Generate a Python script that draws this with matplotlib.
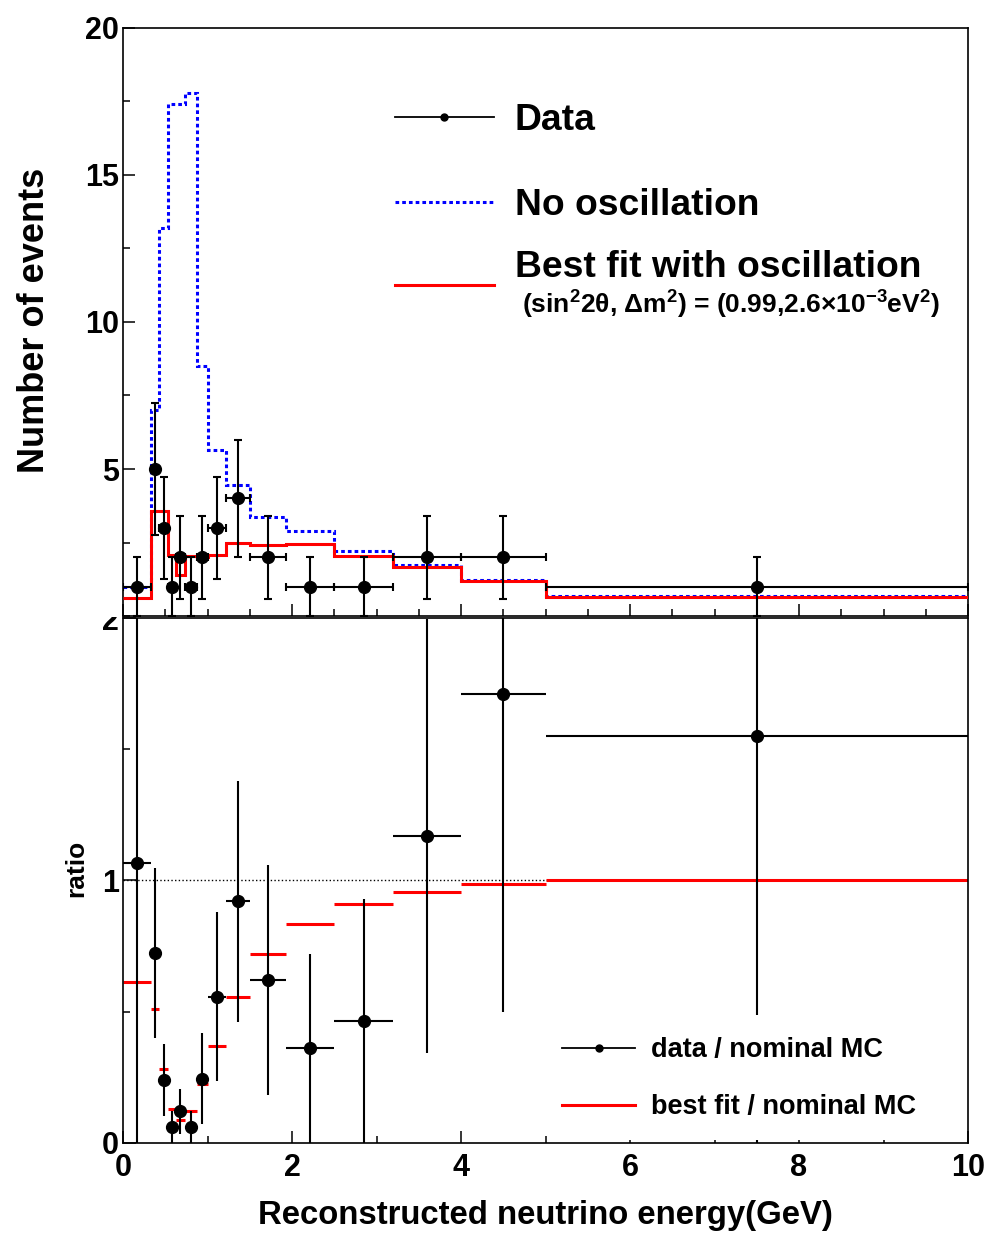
import numpy as np
import matplotlib
matplotlib.use('Agg')
import matplotlib.pyplot as plt
from matplotlib.lines import Line2D
from matplotlib.patches import Rectangle
from matplotlib.ticker import MultipleLocator
from matplotlib.legend_handler import HandlerLine2D

# energy bin edges (GeV)
edges = [0, 0.33, 0.43, 0.53, 0.63, 0.73, 0.87, 1.0, 1.22, 1.5, 1.93, 2.5, 3.2, 4.0, 5.0, 10.0]

# top panel: events per bin
data_counts = [1, 5, 3, 1, 2, 1, 2, 3, 4, 2, 1, 1, 2, 2, 1]
no_osc = [1.0, 7.0, 13.2, 17.4, 17.4, 17.8, 8.5, 5.65, 4.46, 3.37, 2.9, 2.2, 1.72, 1.22, 0.68]
best_fit = [0.6, 3.57, 3.57, 2.07, 1.4, 2.05, 2.0, 2.08, 2.48, 2.42, 2.45, 2.05, 1.67, 1.19, 0.64]

# bottom panel: ratios to nominal MC
ratio_data = [1.065, 0.725, 0.24, 0.06, 0.12, 0.06, 0.245, 0.557, 0.92, 0.62, 0.36, 0.465, 1.17, 1.71, 1.55]
ratio_fit = [0.615, 0.51, 0.28, 0.13, 0.088, 0.12, 0.225, 0.37, 0.557, 0.72, 0.835, 0.91, 0.955, 0.985, 1.0]

plt.rcParams['font.family'] = ['Liberation Sans', 'DejaVu Sans']
plt.rcParams['font.weight'] = 'bold'
plt.rcParams['axes.labelweight'] = 'bold'
plt.rcParams['mathtext.fontset'] = 'custom'
plt.rcParams['mathtext.rm'] = 'Liberation Sans:bold'
plt.rcParams['mathtext.default'] = 'rm'


class LoweredLine(HandlerLine2D):
    """legend line drawn below the text centre (two-line ROOT entry)"""
    def create_artists(self, legend, orig_handle, xdescent, ydescent,
                       width, height, fontsize, trans):
        arts = super().create_artists(legend, orig_handle, xdescent, ydescent,
                                      width, height, fontsize, trans)
        for a in arts:
            a.set_ydata(np.asarray(a.get_ydata()) - 0.565 * fontsize)
        return arts


edges = np.array(edges)
centers = 0.5 * (edges[:-1] + edges[1:])
half_w = 0.5 * np.diff(edges)
counts = np.array(data_counts, dtype=float)
err_counts = np.sqrt(counts)
ratio_data = np.array(ratio_data)
err_ratio = ratio_data / np.sqrt(counts)

fig = plt.figure(figsize=(9.89, 12.37), dpi=100)
ax1 = fig.add_axes([0.1244, 0.502, 0.8544, 0.4754])
ax2 = fig.add_axes([0.1244, 0.076, 0.8544, 0.4244])

# ---- top panel ----
ax1.stairs(no_osc, edges, baseline=None, color='#0000ff', lw=2.2,
           linestyle=(0, (1.2, 1.0)), zorder=2)
ax1.stairs(best_fit, edges, baseline=None, color='#ff0000', lw=2.2, zorder=3)
ax1.errorbar(centers, counts, xerr=half_w, yerr=err_counts, fmt='o', color='k',
             ms=8.5, lw=1.5, capsize=3, capthick=1.5, zorder=4)
ax1.set_xlim(0, 10)
ax1.set_ylim(0, 20)
ax1.set_yticks([5, 10, 15, 20])
ax1.yaxis.set_minor_locator(MultipleLocator(2.5))
ax1.xaxis.set_major_locator(MultipleLocator(2))
ax1.xaxis.set_minor_locator(MultipleLocator(0.5))
ax1.tick_params(axis='both', which='both', direction='in', top=False, right=False)
ax1.tick_params(axis='x', labelbottom=False)
ax1.tick_params(axis='y', labelsize=22, pad=3)
ax1.tick_params(which='major', length=8.5, width=1.1)
ax1.tick_params(which='minor', length=5, width=1.1)
ax1.set_ylabel('Number of events', fontsize=26)
ax1.yaxis.set_label_coords(-0.084, 0.503)

leg_a = ax1.legend([Line2D([], [], color='k', lw=1.3, marker='o', ms=5),
                    Line2D([], [], color='#0000ff', lw=2.2, linestyle=(0, (1.2, 1.0)))],
                   ['Data', 'No oscillation'],
                   loc='upper left', bbox_to_anchor=(0.322, 0.873), frameon=False,
                   fontsize=26.8, handlelength=2.65, handletextpad=0.57,
                   labelspacing=1.35, borderpad=0, borderaxespad=0)
ax1.add_artist(leg_a)
fit_line = Line2D([], [], color='#ff0000', lw=2.2)
ax1.legend([fit_line], ['Best fit with oscillation'],
           handler_map={fit_line: LoweredLine()},
           loc='upper left', bbox_to_anchor=(0.322, 0.622), frameon=False,
           fontsize=26.8, handlelength=2.65, handletextpad=0.57,
           borderpad=0, borderaxespad=0)
ax1.text(0.472, 0.529,
         r'(sin$^{2}$2θ, Δm$^{2}$) = (0.99,2.6×10$^{-3}$eV$^{2}$)',
         transform=ax1.transAxes, fontsize=19, va='center', ha='left')

# ---- bottom panel ----
ax2.axhline(1.0, color='k', lw=1.0, linestyle=':', zorder=1)
ax2.hlines(ratio_fit, edges[:-1], edges[1:], color='#ff0000', lw=2.2, zorder=2)
ax2.errorbar(centers, ratio_data, xerr=half_w, yerr=err_ratio, fmt='o', color='k',
             ms=8.5, lw=1.5, capsize=0, zorder=3)
ax2.set_xlim(0, 10)
ax2.set_ylim(0, 2)
ax2.set_yticks([0, 1, 2])
ax2.yaxis.set_minor_locator(MultipleLocator(0.5))
ax2.xaxis.set_major_locator(MultipleLocator(2))
ax2.xaxis.set_minor_locator(MultipleLocator(1))
ax2.tick_params(axis='both', which='both', direction='in', top=False, right=False)
ax2.tick_params(which='major', length=9, width=1.1)
ax2.tick_params(which='minor', length=5, width=1.1)
ax2.tick_params(axis='x', labelsize=22, pad=7)
ax2.tick_params(axis='y', labelsize=22, pad=3)
ax2.set_ylabel('ratio', fontsize=19)
ax2.yaxis.set_label_coords(-0.041, 0.524)
ax2.set_xlabel('Reconstructed neutrino energy(GeV)', fontsize=23.7)
ax2.xaxis.set_label_coords(0.4994, -0.108)

# legend box (white, hides what lies behind it)
ax2.add_patch(Rectangle((0.505, 0.006), 0.492, 0.238, transform=ax2.transAxes,
                        facecolor='white', edgecolor='none', zorder=4))
ax2.legend([Line2D([], [], color='k', lw=1.3, marker='o', ms=5),
            Line2D([], [], color='#ff0000', lw=2.2)],
           ['data / nominal MC', 'best fit / nominal MC'],
           loc='upper left', bbox_to_anchor=(0.5195, 0.201), frameon=False,
           fontsize=19.5, handlelength=2.7, handletextpad=0.58,
           labelspacing=1.13, borderpad=0, borderaxespad=0).set_zorder(5)

for ax in (ax1, ax2):
    for s in ax.spines.values():
        s.set_linewidth(1.2)

# upper pad hides the top of the lower panel's "2" label
ax1.set_zorder(3)
fig.add_artist(Rectangle((0.06, 0.5012), 0.062, 0.03, transform=fig.transFigure,
                         facecolor='white', edgecolor='none', zorder=10))

fig.savefig('out.png', dpi=100)
